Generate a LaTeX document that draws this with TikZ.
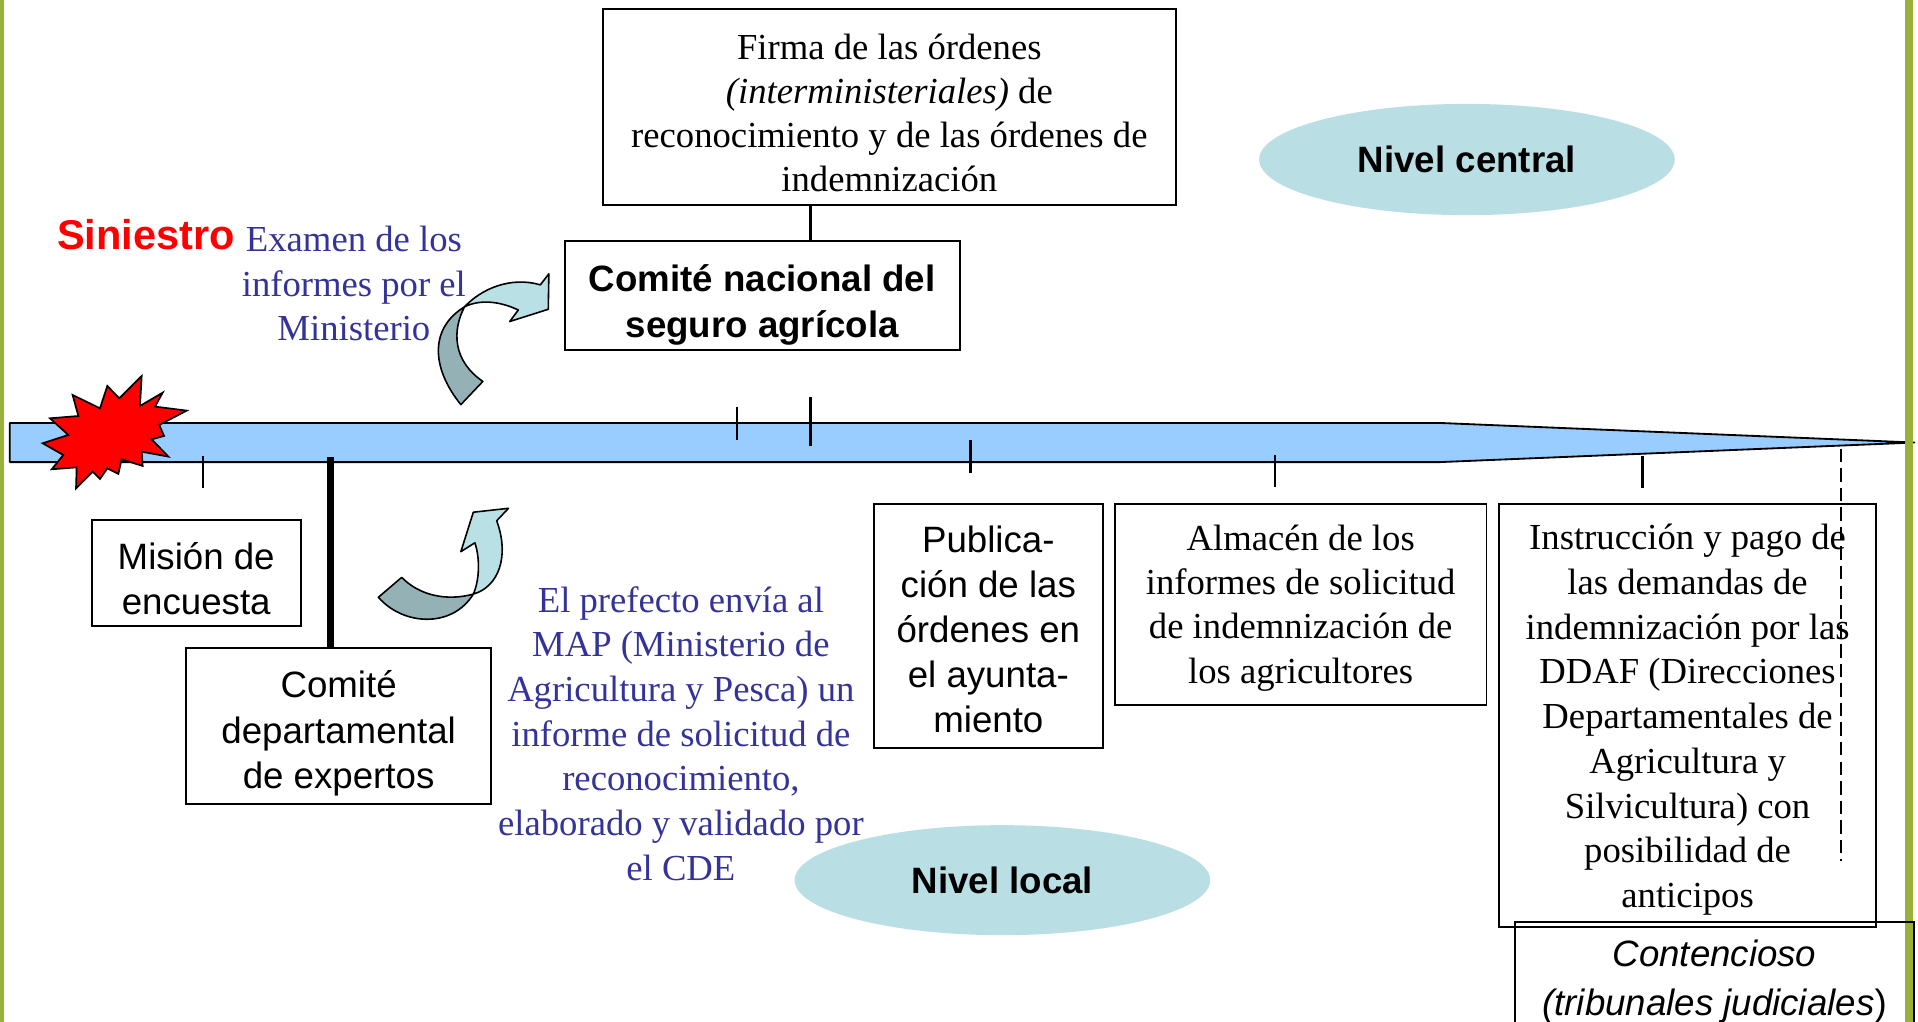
\documentclass[tikz,border=0pt]{standalone}
\usepackage{fontspec}
\setmainfont{Liberation Serif}
\setsansfont{Liberation Sans}
\usetikzlibrary{shapes.geometric}
\definecolor{bordergreen}{RGB}{153,177,58}
\definecolor{barblue}{RGB}{153,204,255}
\definecolor{ellfill}{RGB}{185,223,228}
\definecolor{arrlight}{RGB}{185,224,228}
\definecolor{arrdark}{RGB}{148,177,181}
\definecolor{txtblue}{RGB}{51,51,153}
\newcommand{\topstrut}[1]{\rule{0pt}{#1}}
\begin{document}
\begin{tikzpicture}[x=1pt,y=-1pt,
  box/.style={draw, line width=1.6pt, align=center, inner sep=0pt},
  ser/.style={font=\fontsize{30}{36}\selectfont},
  san/.style={font=\sffamily\fontsize{30}{37}\selectfont},
  sanb/.style={font=\sffamily\bfseries\fontsize{30}{38}\selectfont},
  tickline/.style={line width=2pt},
  lvl/.style={ellipse, fill=ellfill, inner sep=0pt, font=\sffamily\bfseries\fontsize{30}{36}\selectfont},
  bluetxt/.style={text=txtblue, align=center, inner sep=0pt, font=\fontsize{30}{36.5}\selectfont},
  arrow outline/.style={draw, line width=1.3pt, line join=round},
]
\useasboundingbox (0,0) rectangle (1569,836);

% level ellipses
\node[lvl, minimum width=340pt, minimum height=91pt] (ncen) at (1200,130.5) {Nivel central};
\node[lvl, minimum width=340pt, minimum height=90pt] (nloc) at (820,720) {Nivel local};

% time bar
\draw[fill=barblue, line width=1.5pt, line join=round] (8,346) -- (1178,346) -- (1566,362) -- (1178,378) -- (8,378) -- cycle;

% starburst
\draw[fill=red, line width=1.4pt, line join=miter]
 (34.9,362.6) -- (55.9,355.8) -- (40.9,342.2) -- (64.1,340.3) -- (59.4,323.1) -- (81.8,334.0)
 -- (87.8,315.7) -- (97.6,325.8) -- (115.9,307.6) -- (114.5,332.1) -- (133.1,321.2) -- (126.8,332.6)
 -- (152.7,335.9) -- (130.3,347.6) -- (134.2,356.6) -- (124.1,359.4) -- (137.7,373.5) -- (115.9,369.5)
 -- (116.7,381.2) -- (99.5,375.7) -- (96.8,387.7) -- (87.8,383.1) -- (81.8,391.8) -- (75.8,385.8)
 -- (62.2,399.5) -- (62.7,382.3) -- (42.3,383.9) -- (51.8,372.2) -- cycle;

% ticks on the bar
\coordinate (tB) at (663,325);
\draw[tickline] (603,332.7) -- (603,360);
\draw[tickline] (tB) -- (663,365);
\draw[tickline] (166,373) -- (166,399);
\draw[tickline] (794,360) -- (794,387);
\draw[tickline] (1043,372) -- (1043,398);
\draw[tickline] (1343.7,372.8) -- (1343.7,399);
\draw[line width=1.6pt, dash pattern=on 11pt off 5pt] (1506,367) -- (1506,704);

% borders
\fill[bordergreen] (0,0) rectangle (3,836);
\fill[bordergreen] (1558,0) rectangle (1565,836);

% boxes
\node[box, ser, minimum width=469pt, minimum height=161pt] (firma) at (727.5,87.5)
 {\topstrut{31pt}Firma de las órdenes\\\textit{(interministeriales)} de\\reconocimiento y de las órdenes de\\indemnización};
\node[box, sanb, minimum width=323pt, minimum height=89pt] (cnac) at (623.5,241.5)
 {\topstrut{38pt}Comité nacional del\\seguro agrícola};
\node[box, san, minimum width=171pt, minimum height=87pt] (mision) at (160.5,468.5)
 {\topstrut{32pt}Misión de\\encuesta};
\node[box, san, minimum width=250pt, minimum height=128pt] (cdep) at (277,594)
 {\topstrut{34pt}Comité\\departamental\\de expertos};
\node[box, san, minimum width=187pt, minimum height=200pt] (publ) at (808.5,512)
 {\topstrut{27.5pt}Publica-\\ción de las\\órdenes en\\el ayunta-\\miento};
\node[box, font=\fontsize{30}{36.3}\selectfont, minimum width=304pt, minimum height=165pt] (alm) at (1064,494.5)
 {\topstrut{26.5pt}Almacén de los\\informes de solicitud\\de indemnización de\\los agricultores};
\node[box, font=\fontsize{30}{36.6}\selectfont, minimum width=309pt, minimum height=346pt] (instr) at (1380.5,585)
 {\topstrut{28.5pt}Instrucción y pago de\\las demandas de\\indemnización por las\\DDAF (Direcciones\\Departamentales de\\Agricultura y\\Silvicultura) con\\posibilidad de\\anticipos};
\node[box, font=\sffamily\itshape\fontsize{30}{40}\selectfont, minimum width=327pt, minimum height=98pt] (cont) at (1402.5,803)
 {Contencioso\\(tribunales judiciales\textup{)}};

% connectors
\draw[tickline] (firma.south -| tB) -- (cnac.north -| tB);
\coordinate (thk) at (270.5,373.5);
\draw[line width=5.5pt] (thk) -- (cdep.north -| thk);

% texts
\node[anchor=base west, inner sep=0pt, text=red, font=\sffamily\bfseries\fontsize{34}{40}\selectfont] (sin) at (46.6,204.5) {Siniestro};
\node[bluetxt] (exam) at (289.5,232) {Examen de los\\informes por el\\Ministerio};
\node[bluetxt] (pref) at (557,600) {El prefecto envía al\\MAP (Ministerio de\\Agricultura y Pesca) un\\informe de solicitud de\\reconocimiento,\\elaborado y validado por\\el CDE};

% upper curved arrow
\path[arrow outline, fill=arrdark] (377,331) .. controls (352,300) and (352,268) .. (380,251)
  .. controls (370,270) and (370,295) .. (395,312) -- cycle;
\path[arrow outline, fill=arrlight] (380,251) .. controls (394,236) and (418,226) .. (442,233)
  -- (449,224) -- (448.5,253) -- (417,263) -- (424,253.6)
  .. controls (408,246) and (392,245) .. (380,251) -- cycle;

% lower curved arrow
\path[arrow outline, fill=arrdark] (309.5,488.6) .. controls (330,512) and (370,514) .. (387.2,486)
  .. controls (365,492) and (343,487) .. (328.6,472.3) -- cycle;
\path[arrow outline, fill=arrlight] (387.2,486) .. controls (408,480) and (417,455) .. (406.3,426)
  -- (416,415.8) -- (387.2,419) -- (377,451.3) -- (388.5,444)
  .. controls (393,458) and (392,475) .. (387.2,486) -- cycle;
\end{tikzpicture}
\end{document}
